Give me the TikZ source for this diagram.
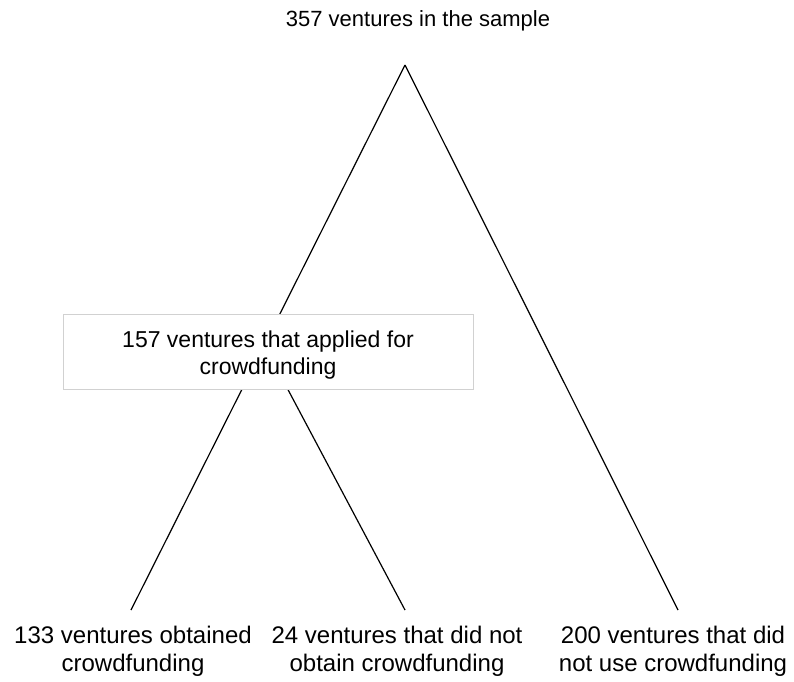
\documentclass[tikz,border=0pt]{standalone}
\usepackage{fontspec}
\setmainfont{Liberation Sans}
\usetikzlibrary{positioning}
\tikzset{
  branch/.style={draw=black, line width=1.2pt},
  count/.style={font=\fontsize{22}{27}\selectfont, align=center, inner sep=0pt},
}

\begin{document}
\begin{tikzpicture}[x=1pt, y=-1pt,
    group/.style={count, font=\fontsize{23}{27.5}\selectfont, draw=black!18,
      fill=white, line width=0.8pt, minimum width=410pt, minimum height=75pt,
      text height=50pt},
    leaf/.style={count, font=\fontsize{24}{28}\selectfont, anchor=base}]
  \useasboundingbox (0,0) rectangle (794,681);

  % top of the tree
  \node [count, anchor=base] (sample) at (418,26) {357 ventures in the sample};
  \coordinate (apex) at (405,65);
  \coordinate (split) at (268,352);

  % ends of the branches
  \coordinate (obtainedend) at (131,610);
  \coordinate (failedend) at (405,610);
  \coordinate (unusedend) at (678,610);

  \draw [branch] (apex) -- (obtainedend);
  \draw [branch] (split) -- (failedend);
  \draw [branch] (apex) -- (unusedend);

  \node [group] (applied) at (split) {157 ventures that applied for\\crowdfunding};

  % leaves
  \node [leaf] (obtained) at (133,671) {133 ventures obtained\\crowdfunding};
  \node [leaf] (failed) at (397,671) {24 ventures that did not\\obtain crowdfunding};
  \node [leaf] (unused) at (673,671) {200 ventures that did\\not use crowdfunding};

\end{tikzpicture}
\end{document}
